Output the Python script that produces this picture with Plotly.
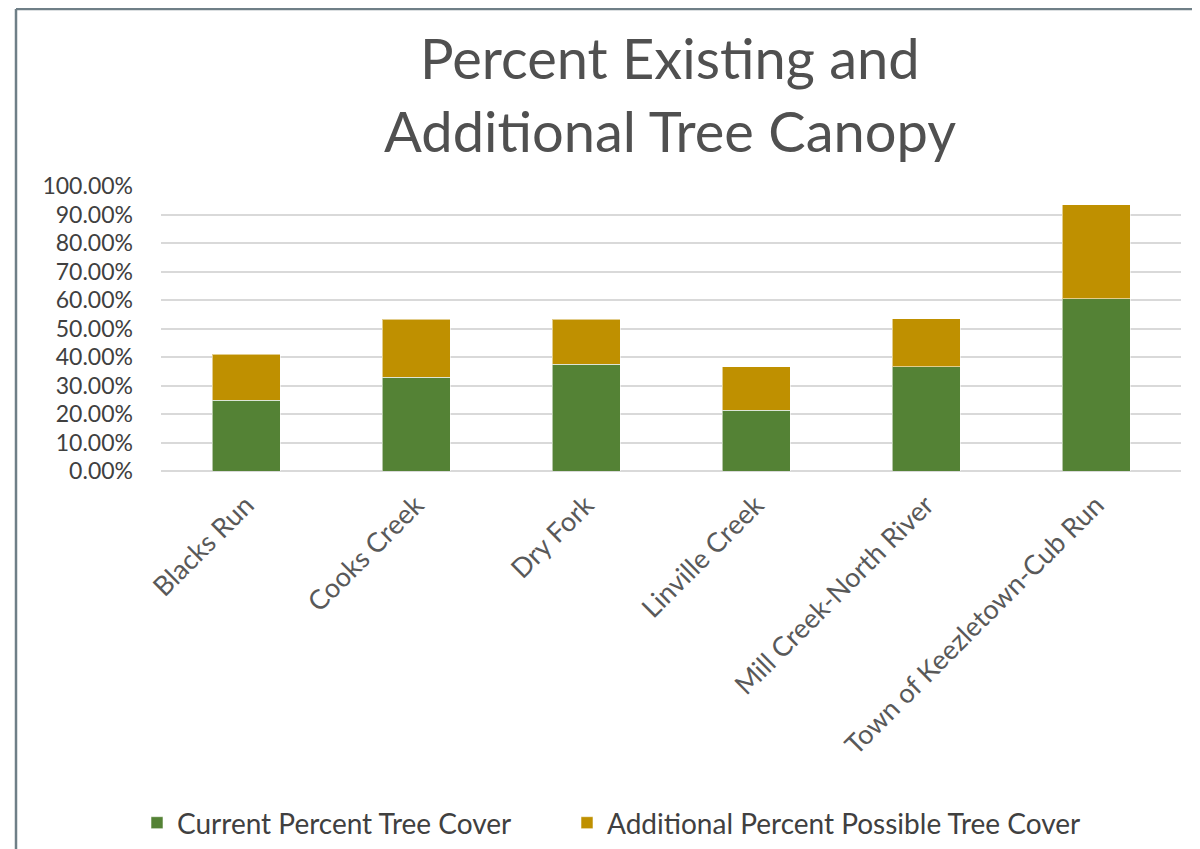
import plotly.graph_objects as go

categories = ["Blacks Run", "Cooks Creek", "Dry Fork", "Linville Creek",
              "Mill Creek-North River", "Town of Keezletown-Cub Run"]
current_pct = [24.9, 32.9, 37.4, 21.4, 36.5, 60.5]
additional_pct = [16.0, 20.4, 15.9, 15.1, 16.9, 32.9]
y_ticks = [0, 10, 20, 30, 40, 50, 60, 70, 80, 90, 100]
y_tick_text = ["0.00%", "10.00%", "20.00%", "30.00%", "40.00%", "50.00%",
               "60.00%", "70.00%", "80.00%", "90.00%", "100.00%"]
title_lines = ["Percent Existing and", "Additional Tree Canopy"]

FONT = "Lato"
OFF = 8  # page body margin
W, H = 1200 - OFF, 849 - OFF
L, R, T, B = 161 - OFF, 19, 186 - OFF, 378
pw, ph = W - L - R, H - T - B

def px_x(px):
    return (px - OFF - L) / pw

def px_y(py):
    return (H - B - (py - OFF)) / ph

fig = go.Figure()
fig.add_trace(go.Bar(
    x=categories, y=current_pct, name="Current Percent Tree Cover",
    marker=dict(color="#548235", line=dict(color="rgba(255,255,255,0.55)", width=1)),
    legend="legend",
))
fig.add_trace(go.Bar(
    x=categories, y=additional_pct, name="Additional Percent Possible Tree Cover",
    marker=dict(color="#BF9000", line=dict(color="rgba(255,255,255,0.55)", width=1)),
    legend="legend2",
))

leg_common = dict(
    orientation="h", yanchor="middle", yref="paper", xanchor="left",
    font=dict(family=FONT, size=28, color="#404040"),
    itemwidth=30, bgcolor="rgba(0,0,0,0)",
)

fig.update_layout(
    width=W, height=H,
    barmode="stack", bargap=0.6,
    margin=dict(l=L, r=R, t=T, b=B, autoexpand=False),
    paper_bgcolor="white", plot_bgcolor="white",
    font=dict(family=FONT, color="#595959"),
    xaxis=dict(
        tickangle=-45, tickfont=dict(family=FONT, size=27, color="#595959"),
        showgrid=False, showline=False, ticks="", ticklabelstandoff=12,
    ),
    yaxis=dict(
        range=[0, 100], tickvals=y_ticks, ticktext=y_tick_text,
        tickfont=dict(family=FONT, size=23, color="#404040"),
        showgrid=True, gridcolor="#d9d9d9", gridwidth=2,
        zeroline=True, zerolinecolor="#d9d9d9", zerolinewidth=2,
        showline=False, ticks="", ticklabelstandoff=27,
    ),
    legend=dict(leg_common, x=px_x(137), y=px_y(823)),
    legend2=dict(leg_common, x=px_x(567), y=px_y(823)),
    showlegend=True,
    annotations=[
        dict(text=title_lines[0], xref="paper", yref="paper",
             x=px_x(670), y=px_y(58), xanchor="center", yanchor="middle",
             showarrow=False, font=dict(family=FONT, size=56, color="#505050")),
        dict(text=title_lines[1], xref="paper", yref="paper",
             x=px_x(670), y=px_y(130), xanchor="center", yanchor="middle",
             showarrow=False, font=dict(family=FONT, size=56, color="#505050")),
    ],
    shapes=[
        dict(type="line", xref="paper", yref="paper",
             x0=px_x(16), x1=px_x(16), y0=px_y(H + 20), y1=px_y(9),
             line=dict(color="#6F7F87", width=2.5)),
        dict(type="line", xref="paper", yref="paper",
             x0=px_x(16), x1=px_x(W + 20), y0=px_y(9), y1=px_y(9),
             line=dict(color="#6F7F87", width=2.5)),
    ],
)

fig.write_html("out.html")
